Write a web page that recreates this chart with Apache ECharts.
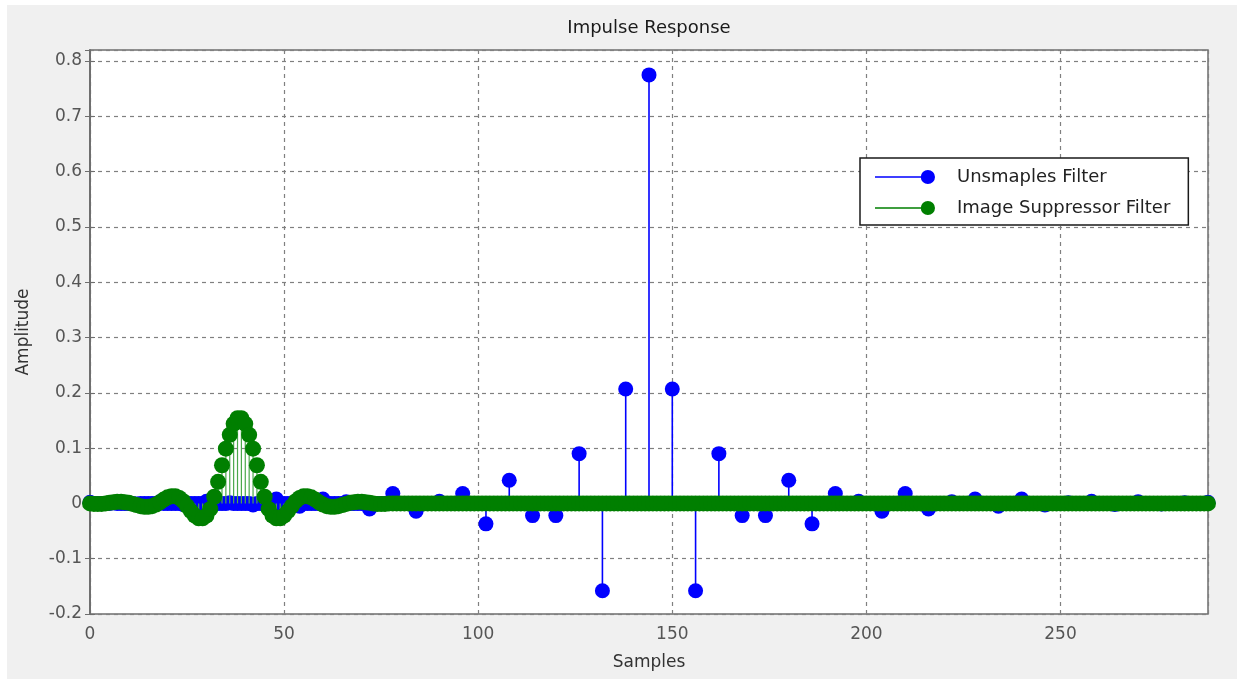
<!DOCTYPE html>
<html>
<head>
<meta charset="utf-8">
<title>Impulse Response</title>
<script src="https://cdn.jsdelivr.net/npm/echarts@6.0.0/dist/echarts.min.js"></script>
<style>
	html, body { margin: 0; padding: 0; background: #fff; }
	#chart { position: absolute; left: 7px; top: 5px; width: 1230px; height: 674px; }
</style>
</head>
<body>
<div id="chart"></div>
<script>
// upsampled filter, one value per sample (0..288)
var upsampled = [
	0.002, 0, 0, 0, 0, 0, 0.001, 0, 0, 0, 0, 0, -0.001, 0, 0, 0, 0, 0, 0.003, 0, 0, 0, 0, 0,
	-0.002, 0, 0, 0, 0, 0, 0.004, 0, 0, 0, 0, 0, 0.001, 0, 0, 0, 0, 0, -0.003, 0, 0, 0, 0, 0,
	0.008, 0, 0, 0, 0, 0, -0.005, 0, 0, 0, 0, 0, 0.008, 0, 0, 0, 0, 0, 0.003, 0, 0, 0, 0, 0,
	-0.010, 0, 0, 0, 0, 0, 0.018, 0, 0, 0, 0, 0, -0.014, 0, 0, 0, 0, 0, 0.004, 0, 0, 0, 0, 0,
	0.018, 0, 0, 0, 0, 0, -0.037, 0, 0, 0, 0, 0, 0.042, 0, 0, 0, 0, 0, -0.022, 0, 0, 0, 0, 0,
	-0.022, 0, 0, 0, 0, 0, 0.090, 0, 0, 0, 0, 0, -0.158, 0, 0, 0, 0, 0, 0.207, 0, 0, 0, 0, 0,
	0.775, 0, 0, 0, 0, 0, 0.207, 0, 0, 0, 0, 0, -0.158, 0, 0, 0, 0, 0, 0.090, 0, 0, 0, 0, 0,
	-0.022, 0, 0, 0, 0, 0, -0.022, 0, 0, 0, 0, 0, 0.042, 0, 0, 0, 0, 0, -0.037, 0, 0, 0, 0, 0,
	0.018, 0, 0, 0, 0, 0, 0.004, 0, 0, 0, 0, 0, -0.014, 0, 0, 0, 0, 0, 0.018, 0, 0, 0, 0, 0,
	-0.010, 0, 0, 0, 0, 0, 0.003, 0, 0, 0, 0, 0, 0.008, 0, 0, 0, 0, 0, -0.005, 0, 0, 0, 0, 0,
	0.008, 0, 0, 0, 0, 0, -0.003, 0, 0, 0, 0, 0, 0.001, 0, 0, 0, 0, 0, 0.004, 0, 0, 0, 0, 0,
	-0.002, 0, 0, 0, 0, 0, 0.003, 0, 0, 0, 0, 0, -0.001, 0, 0, 0, 0, 0, 0.001, 0, 0, 0, 0, 0,
	0.002
];

// image suppressor filter, one value per sample (0..288), 12 per row
var suppressor = [
	0, -0.001, -0.001, -0.001, 0, 0.001, 0.002, 0.003, 0.003, 0.002, 0.001, -0.001,
	-0.003, -0.005, -0.006, -0.006, -0.005, -0.002, 0.002, 0.007, 0.011, 0.013, 0.013, 0.010,
	0.004, -0.005, -0.014, -0.022, -0.027, -0.027, -0.022, -0.010, 0.012, 0.039, 0.069, 0.099,
	0.124, 0.144, 0.154, 0.154, 0.144, 0.124, 0.099, 0.069, 0.039, 0.012, -0.010, -0.022,
	-0.027, -0.027, -0.022, -0.014, -0.005, 0.004, 0.010, 0.013, 0.013, 0.011, 0.007, 0.002,
	-0.002, -0.005, -0.006, -0.006, -0.005, -0.003, -0.001, 0.001, 0.002, 0.003, 0.003, 0.002,
	0.001, 0, -0.001, -0.001, -0.001, 0, 0, 0, 0, 0, 0, 0,
	0, 0, 0, 0, 0, 0, 0, 0, 0, 0, 0, 0,
	0, 0, 0, 0, 0, 0, 0, 0, 0, 0, 0, 0,
	0, 0, 0, 0, 0, 0, 0, 0, 0, 0, 0, 0,
	0, 0, 0, 0, 0, 0, 0, 0, 0, 0, 0, 0,
	0, 0, 0, 0, 0, 0, 0, 0, 0, 0, 0, 0,
	0, 0, 0, 0, 0, 0, 0, 0, 0, 0, 0, 0,
	0, 0, 0, 0, 0, 0, 0, 0, 0, 0, 0, 0,
	0, 0, 0, 0, 0, 0, 0, 0, 0, 0, 0, 0,
	0, 0, 0, 0, 0, 0, 0, 0, 0, 0, 0, 0,
	0, 0, 0, 0, 0, 0, 0, 0, 0, 0, 0, 0,
	0, 0, 0, 0, 0, 0, 0, 0, 0, 0, 0, 0,
	0, 0, 0, 0, 0, 0, 0, 0, 0, 0, 0, 0,
	0, 0, 0, 0, 0, 0, 0, 0, 0, 0, 0, 0,
	0, 0, 0, 0, 0, 0, 0, 0, 0, 0, 0, 0,
	0, 0, 0, 0, 0, 0, 0, 0, 0, 0, 0, 0,
	0, 0, 0, 0, 0, 0, 0, 0, 0, 0, 0, 0,
	0, 0, 0, 0, 0, 0, 0, 0, 0, 0, 0, 0,
	0
];

var seriesNames = ['Unsmaples Filter', 'Image Suppressor Filter'];
var xTicks = [0, 288, 50];         // min, max, interval
var yTicks = [-0.2, 0.82, 0.1];

var font = 'DejaVu Sans';
var axisGray = '#6e6e6e';
// legend icon: short line with a dot at its end
var stemIcon = 'path://M0,7.2H54V8.8H0Z M59,8A7,7 0 1 1 45,8A7,7 0 1 1 59,8Z';

function toPoints(values) {
	var pts = [];
	for (var i = 0; i < values.length; i++) {
		pts.push([i, values[i]]);
	}
	return pts;
}

function stemItem(width) {
	return function(params, api) {
		var x = api.value(0), y = api.value(1);
		if (y === 0) return null;
		var p0 = api.coord([x, 0]);
		var p1 = api.coord([x, y]);
		return {
			type: 'line',
			shape: { x1: p0[0], y1: p0[1], x2: p1[0], y2: p1[1] },
			style: { stroke: api.visual('color'), lineWidth: width }
		};
	};
}

function chart() {
	var myChart = echarts.init(document.getElementById('chart'));
	var bluePts = toPoints(upsampled);
	var greenPts = toPoints(suppressor);

	var option = {
		backgroundColor: '#f0f0f0',
		animation: false,
		textStyle: { fontFamily: font },
		graphic: [{
			type: 'text',
			x: 642,
			y: 23,
			style: {
				text: 'Impulse Response',
				fill: '#1a1a1a',
				font: '18px "DejaVu Sans"',
				textAlign: 'center',
				textVerticalAlign: 'middle'
			}
		}],
		legend: {
			data: [
				{ name: seriesNames[0], icon: stemIcon },
				{ name: seriesNames[1], icon: stemIcon }
			],
			orient: 'vertical',
			left: 853,
			top: 153,
			padding: [10, 18, 8, 15],
			itemWidth: 60,
			itemHeight: 16,
			itemGap: 13,
			backgroundColor: '#fff',
			borderColor: '#1a1a1a',
			borderWidth: 1.5,
			borderRadius: 0,
			z: 10,
			selectedMode: false,
			textStyle: {
				fontFamily: font,
				fontSize: 18,
				color: '#222',
				padding: [0, 0, 0, 17]
			}
		},
		grid: {
			left: 83,
			top: 45,
			right: 29,
			bottom: 65,
			show: true,
			backgroundColor: '#fff',
			borderColor: axisGray,
			borderWidth: 1.5
		},
		xAxis: [{
			type: 'value',
			min: xTicks[0],
			max: xTicks[1],
			interval: xTicks[2],
			name: 'Samples',
			nameLocation: 'middle',
			nameGap: 40,
			nameTextStyle: { fontFamily: font, fontSize: 17, color: '#333' },
			axisLine: { show: true, lineStyle: { color: axisGray, width: 1.5 } },
			axisTick: { show: true, inside: true, length: 5, lineStyle: { color: axisGray } },
			axisLabel: { fontFamily: font, fontSize: 17, color: '#555', margin: 12, showMaxLabel: false },
			splitLine: { show: true, lineStyle: { color: '#808080', type: [4, 4], width: 1.2 } }
		}, {
			type: 'value',
			position: 'top',
			min: xTicks[0],
			max: xTicks[1],
			interval: xTicks[2],
			axisLine: { show: true, lineStyle: { color: axisGray, width: 1.5 } },
			axisTick: { show: true, inside: true, length: 5, lineStyle: { color: axisGray } },
			axisLabel: { show: false },
			splitLine: { show: false }
		}],
		yAxis: [{
			type: 'value',
			min: yTicks[0],
			max: yTicks[1],
			interval: yTicks[2],
			name: 'Amplitude',
			nameLocation: 'middle',
			nameGap: 58,
			nameTextStyle: { fontFamily: font, fontSize: 17, color: '#333' },
			axisLine: { show: true, lineStyle: { color: axisGray, width: 1.5 } },
			axisTick: { show: true, inside: true, length: 5, lineStyle: { color: axisGray } },
			axisLabel: { fontFamily: font, fontSize: 17, color: '#555', margin: 8, showMaxLabel: false },
			splitLine: { show: true, lineStyle: { color: '#808080', type: [4, 4], width: 1.2 } }
		}, {
			type: 'value',
			position: 'right',
			min: yTicks[0],
			max: yTicks[1],
			interval: yTicks[2],
			axisLine: { show: true, lineStyle: { color: axisGray, width: 1.5 } },
			axisTick: { show: true, inside: true, length: 5, lineStyle: { color: axisGray } },
			axisLabel: { show: false },
			splitLine: { show: false }
		}],
		series: [{
			name: 'stemBlue',
			type: 'custom',
			renderItem: stemItem(1.6),
			data: bluePts,
			itemStyle: { color: '#0000ff' },
			z: 2
		}, {
			name: seriesNames[0],
			type: 'scatter',
			symbol: 'circle',
			symbolSize: 15,
			clip: false,
			data: bluePts,
			itemStyle: { color: '#0000ff', opacity: 1 },
			z: 3
		}, {
			name: 'stemGreen',
			type: 'custom',
			renderItem: stemItem(1.2),
			data: greenPts,
			itemStyle: { color: '#4aa84a' },
			z: 4
		}, {
			name: seriesNames[1],
			type: 'scatter',
			symbol: 'circle',
			symbolSize: 16,
			clip: false,
			data: greenPts,
			itemStyle: { color: '#007f00', opacity: 1 },
			z: 5
		}]
	};

	myChart.setOption(option);
	window.addEventListener('resize', function() {
		myChart.resize();
	});
}

chart();
</script>
</body>
</html>
